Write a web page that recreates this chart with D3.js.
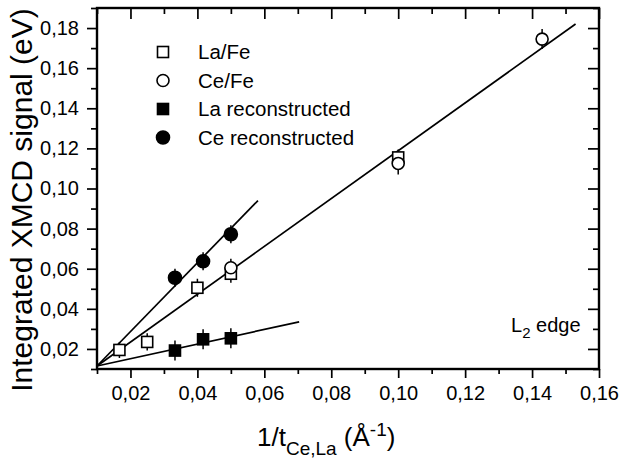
<!DOCTYPE html>
<html>
<head>
<meta charset="utf-8">
<script src="https://cdn.jsdelivr.net/npm/d3@7"></script>
<style>
  body { margin: 0; background: #fff; }
  svg text { font-family: "Liberation Sans", Arial, Helvetica, sans-serif; fill: #000; }
</style>
</head>
<body>
<div id="chart"></div>
<script>
// La/Fe open squares
const laFeX = [0.0167, 0.025, 0.040, 0.050, 0.100];
const laFeY = [0.0195, 0.0235, 0.0505, 0.0575, 0.1155];
const laFeErr = [0.004, 0.0043, 0.0045, 0.0045, 0.004];
// Ce/Fe open circles
const ceFeX = [0.050, 0.100, 0.143];
const ceFeY = [0.0605, 0.1125, 0.1745];
const ceFeErr = [0.0045, 0.0055, 0.005];
// La reconstructed filled squares
const laRecX = [0.0333, 0.0417, 0.050];
const laRecY = [0.0192, 0.0248, 0.0253];
const laRecErr = [0.005, 0.005, 0.005];
// Ce reconstructed filled circles
const ceRecX = [0.0333, 0.0417, 0.050];
const ceRecY = [0.0555, 0.0637, 0.0772];
const ceRecErr = [0.0045, 0.0045, 0.0045];
// fit lines: [x0, y0, x1, y1]
const fitLines = [
    [0.010, 0.0115, 0.153, 0.182],
    [0.010, 0.0115, 0.0581, 0.094],
    [0.010, 0.0115, 0.0704, 0.0335]
];
const xMajor = [0.02, 0.04, 0.06, 0.08, 0.10, 0.12, 0.14, 0.16];
const xMinor = [0.01, 0.03, 0.05, 0.07, 0.09, 0.11, 0.13, 0.15];
const yMajor = [0.02, 0.04, 0.06, 0.08, 0.10, 0.12, 0.14, 0.16, 0.18];
const yMinor = [0.01, 0.03, 0.05, 0.07, 0.09, 0.11, 0.13, 0.15, 0.17, 0.19];
const legendLabels = ["La/Fe", "Ce/Fe", "La reconstructed", "Ce reconstructed"];

const W = 623, H = 460;
const margin = { top: 8, right: 24, bottom: 91, left: 97 },
    width = W - margin.left - margin.right,
    height = H - margin.top - margin.bottom;

const svg = d3.select("#chart")
    .append("svg")
    .attr("width", W)
    .attr("height", H)
    .append("g")
    .attr("transform", "translate(" + margin.left + "," + margin.top + ")");

const x = d3.scaleLinear().domain([0.01, 0.16]).range([0, width]);
const y = d3.scaleLinear().domain([0.01, 0.19]).range([height, 0]);
const fmt = d => d3.format(".2f")(d).replace(".", ",");

// axes: bottom/left outward, top/right inward
function styleAxis(g) {
    g.select(".domain").remove();
    g.selectAll(".tick line").attr("stroke", "#000").attr("stroke-width", 1.7);
    g.selectAll(".tick text").style("font-size", "20px");
}
svg.append("g").attr("transform", "translate(0," + height + ")")
    .call(d3.axisBottom(x).tickValues(xMajor).tickSize(9).tickPadding(8).tickFormat(fmt))
    .call(styleAxis);
svg.append("g").attr("transform", "translate(0," + height + ")")
    .call(d3.axisBottom(x).tickValues(xMinor).tickSize(5).tickFormat(""))
    .call(styleAxis);
svg.append("g")
    .call(d3.axisTop(x).tickValues(xMajor).tickSize(-11).tickFormat(""))
    .call(styleAxis);
svg.append("g")
    .call(d3.axisTop(x).tickValues(xMinor).tickSize(-6).tickFormat(""))
    .call(styleAxis);
svg.append("g")
    .call(d3.axisLeft(y).tickValues(yMajor).tickSize(10).tickPadding(8).tickFormat(fmt))
    .call(styleAxis);
svg.append("g")
    .call(d3.axisLeft(y).tickValues(yMinor).tickSize(6).tickFormat(""))
    .call(styleAxis);
svg.append("g").attr("transform", "translate(" + width + ",0)")
    .call(d3.axisRight(y).tickValues(yMajor).tickSize(-11).tickFormat(""))
    .call(styleAxis);
svg.append("g").attr("transform", "translate(" + width + ",0)")
    .call(d3.axisRight(y).tickValues(yMinor).tickSize(-6).tickFormat(""))
    .call(styleAxis);

// frame
svg.append("rect")
    .attr("width", width)
    .attr("height", height)
    .attr("fill", "none")
    .attr("stroke", "#000")
    .attr("stroke-width", 2.4);

// fit lines
svg.selectAll(".fit")
    .data(fitLines)
    .join("line")
    .attr("class", "fit")
    .attr("x1", d => x(d[0])).attr("y1", d => y(d[1]))
    .attr("x2", d => x(d[2])).attr("y2", d => y(d[3]))
    .attr("stroke", "#000")
    .attr("stroke-width", 1.7);

const series = [
    { xs: laFeX, ys: laFeY, es: laFeErr, shape: "square", fill: "#fff" },
    { xs: laRecX, ys: laRecY, es: laRecErr, shape: "square", fill: "#000" },
    { xs: ceRecX, ys: ceRecY, es: ceRecErr, shape: "circle", fill: "#000" },
    { xs: ceFeX, ys: ceFeY, es: ceFeErr, shape: "circle", fill: "#fff" }
];

function drawMarker(g, shape, fill, cx, cy) {
    if (shape === "square") {
        g.append("rect")
            .attr("x", cx - 5.5).attr("y", cy - 5.5)
            .attr("width", 11).attr("height", 11)
            .attr("fill", fill).attr("stroke", "#000").attr("stroke-width", 1.6);
    } else {
        g.append("circle")
            .attr("cx", cx).attr("cy", cy).attr("r", fill === "#000" ? 6.5 : 6)
            .attr("fill", fill).attr("stroke", "#000").attr("stroke-width", 1.6);
    }
}

// error bars first, then markers
series.forEach(s => {
    s.xs.forEach((xv, i) => {
        svg.append("line")
            .attr("x1", x(xv)).attr("x2", x(xv))
            .attr("y1", y(s.ys[i] - s.es[i])).attr("y2", y(s.ys[i] + s.es[i]))
            .attr("stroke", "#000").attr("stroke-width", 1.5);
    });
});
series.forEach(s => {
    s.xs.forEach((xv, i) => drawMarker(svg, s.shape, s.fill, x(xv), y(s.ys[i])));
});

// legend
const legendShapes = [["square", "#fff"], ["circle", "#fff"], ["square", "#000"], ["circle", "#000"]];
legendLabels.forEach((label, i) => {
    const ly = 44 + i * 28.5;
    drawMarker(svg, legendShapes[i][0], legendShapes[i][1], 66, ly);
    svg.append("text")
        .attr("x", 101)
        .attr("y", ly)
        .attr("dy", "0.36em")
        .style("font-size", "20.5px")
        .text(label);
});

// L2 edge
const edge = svg.append("text")
    .attr("x", width - 88)
    .attr("y", 332 - margin.top)
    .style("font-size", "20px");
edge.append("tspan").text("L");
edge.append("tspan").attr("dy", 6).style("font-size", "15px").text("2");
edge.append("tspan").attr("dy", -6).text(" edge");

// axis titles
const xt = svg.append("text")
    .attr("x", 160)
    .attr("y", 446 - margin.top)
    .style("font-size", "26px");
xt.append("tspan").text("1/t");
xt.append("tspan").attr("dy", 9).style("font-size", "19px").text("Ce,La");
xt.append("tspan").attr("dy", -9).text(" (Å");
xt.append("tspan").attr("dy", -10).style("font-size", "19px").text("-1");
xt.append("tspan").attr("dy", 10).text(")");

svg.append("text")
    .attr("transform", "translate(" + (32 - margin.left) + "," + (200 - margin.top) + ") rotate(-90)")
    .attr("text-anchor", "middle")
    .style("font-size", "30px")
    .text("Integrated XMCD signal (eV)");
</script>
</body>
</html>
